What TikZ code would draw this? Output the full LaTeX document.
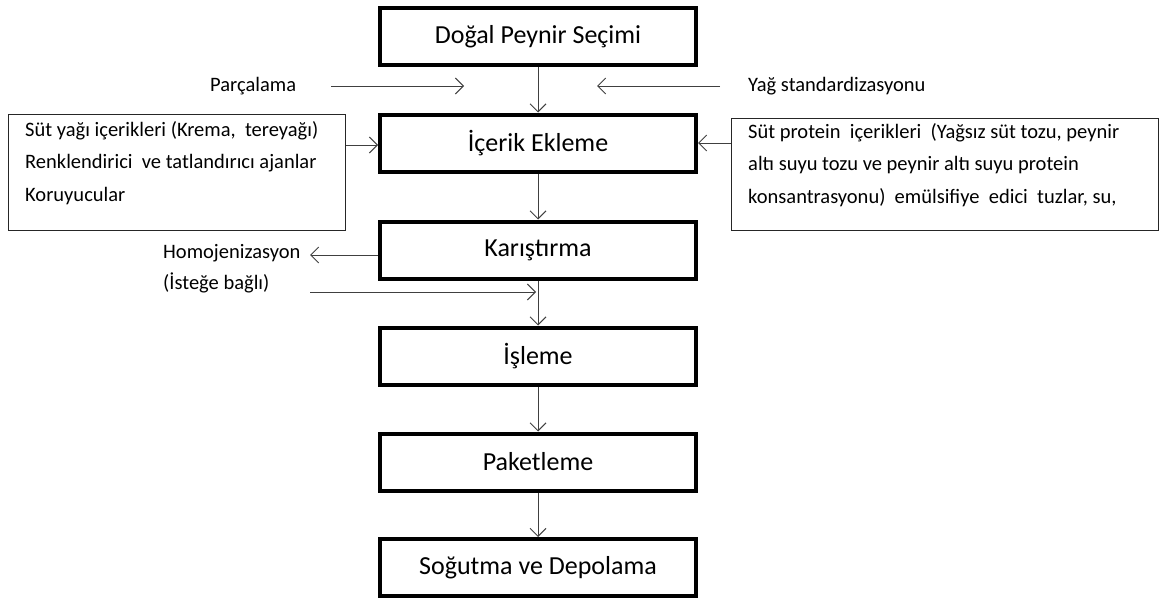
\documentclass[tikz,border=0pt]{standalone}
\usepackage{fontspec}
\setmainfont{Carlito}
\usetikzlibrary{arrows.meta}
\begin{document}
\begin{tikzpicture}[x=1pt,y=-1pt,
  mainbox/.style={draw=black, line width=4pt, minimum width=316pt, minimum height=57pt, inner sep=0pt, font=\fontsize{26}{30}\selectfont},
  sidebox/.style={draw=black!85, line width=1.3pt, anchor=north west, inner sep=0pt},
  smalltxt/.style={font=\fontsize{20.5}{32.5}\selectfont, inner sep=0pt, align=left},
  arr/.style={draw=black!75, line width=1pt, -{Straight Barb[length=8pt,width=16pt,line width=1pt]}}]
\useasboundingbox (0,0) rectangle (1159,597);
\node[mainbox] (b1) at (538,36.5) {Doğal Peynir Seçimi};
\node[mainbox] (b2) at (538,143) {İçerik Ekleme};
\node[mainbox] (b3) at (538,250) {Karıştırma};
\node[mainbox] (b4) at (538,356) {İşleme};
\node[mainbox] (b5) at (538,462) {Paketleme};
\node[mainbox] (b6) at (538,567.5) {Soğutma ve Depolama};
% side boxes
\node[sidebox, minimum width=337pt, minimum height=116pt] (lb) at (8,114) {};
\node[smalltxt, anchor=north west] (lt) at (25,121) {Süt yağı içerikleri (Krema,\ \ tereyağı)\\Renklendirici\ \ ve tatlandırıcı ajanlar\\Koruyucular};
\node[sidebox, minimum width=427pt, minimum height=112pt] (rb) at (731,118) {};
\node[smalltxt, anchor=north west] (rt) at (748,123) {Süt protein\ \ içerikleri\ \ (Yağsız süt tozu,\ peynir\\altı suyu tozu ve peynir\ altı suyu protein\\konsantrasyonu)\ \ emülsifiye\ \ edici\ \ tuzlar, su,};
% labels
\node[smalltxt, anchor=west] (parc) at (210,86) {Parçalama};
\node[smalltxt, anchor=west] (yag) at (748,86) {Yağ standardizasyonu};
\node[smalltxt, anchor=west] (homo) at (163,253) {Homojenizasyon};
\node[smalltxt, anchor=west] (ist) at (163,283) {(İsteğe bağlı)};
\coordinate (pa) at (331,86);
\coordinate (pb) at (464,86);
\coordinate (ya) at (720,86);
\coordinate (yb) at (597,86);
\coordinate (ha) at (310,255);
\coordinate (ia) at (310,292);
\coordinate (ib) at (536,292);
% arrows
\draw[arr] (b1.south) -- (b2.north);
\draw[arr] (b2.south) -- (b3.north);
\draw[arr] (b3.south) -- (b4.north);
\draw[arr] (b4.south) -- (b5.north);
\draw[arr] (b5.south) -- (b6.north);
\draw[arr] (pa) -- (pb);
\draw[arr] (ya) -- (yb);
\draw[arr] (lb.east |- 0,145) -- (b2.west |- 0,145);
\draw[arr] (rb.west |- 0,143) -- (b2.east |- 0,143);
\draw[arr] (b3.west |- 0,255) -- (ha);
\draw[arr] (ia) -- (ib);
\end{tikzpicture}
\end{document}
